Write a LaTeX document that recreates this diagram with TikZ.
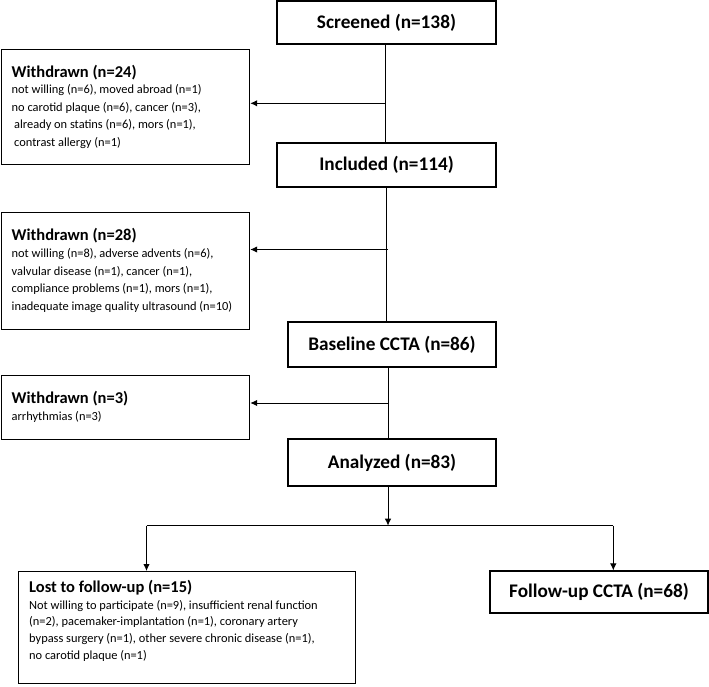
\documentclass[tikz,border=0pt]{standalone}
\usepackage{fontspec}
\setmainfont{Carlito}
\usetikzlibrary{arrows.meta,calc}
\begin{document}
\begin{tikzpicture}[x=1pt,y=-1pt,
 box/.style={draw,line width=1.1pt,inner sep=0pt},
 title/.style={font=\fontsize{19.25}{22}\selectfont\bfseries},
 head/.style={font=\fontsize{16.5}{19}\selectfont\bfseries,anchor=base west,inner sep=0pt},
 body/.style={font=\fontsize{12.4}{15}\selectfont,anchor=base west,inner sep=0pt},
 conn/.style={line width=1pt},
 arr/.style={line width=1pt,-{Latex[length=7pt,width=6.5pt]}}]
\useasboundingbox (0,0) rectangle (709,687);

% main boxes
\node[box,title,minimum width=219pt,minimum height=43pt] (scr) at (386.5,22.5) {Screened (n=138)};
\node[box,title,minimum width=219pt,minimum height=44pt] (inc) at (386.5,165) {Included (n=114)};
\node[box,title,minimum width=208pt,minimum height=45pt] (base) at (392,344.5) {Baseline CCTA (n=86)};
\node[box,title,minimum width=208pt,minimum height=47pt] (ana) at (392,462.5) {Analyzed (n=83)};
\node[box,title,minimum width=218pt,minimum height=42pt] (fol) at (599,592) {Follow-up CCTA (n=68)};

% withdrawn (n=24)
\node[box,anchor=north west,minimum width=248.5pt,minimum height=115pt] (w24) at (0.6,49) {};
\node[head] (w24h) at (11.5,77.5) {Withdrawn (n=24)};
\node[body] (w24a) at (11.5,94) {not willing (n=6), moved abroad (n=1)};
\node[body] (w24b) at (11.5,111.5) {no carotid plaque (n=6), cancer (n=3),};
\node[body] (w24c) at (14,129) {already on statins (n=6), mors (n=1),};
\node[body] (w24d) at (14,146.5) {contrast allergy (n=1)};

% withdrawn (n=28)
\node[box,anchor=north west,minimum width=248.5pt,minimum height=117pt] (w28) at (0.6,212) {};
\node[head] (w28h) at (11.5,240.5) {Withdrawn (n=28)};
\node[body] (w28a) at (11.5,257.5) {not willing (n=8), adverse advents (n=6),};
\node[body] (w28b) at (11.5,275) {valvular disease (n=1), cancer (n=1),};
\node[body] (w28c) at (11.5,292.5) {compliance problems (n=1), mors (n=1),};
\node[body] (w28d) at (11.5,310) {inadequate image quality ultrasound (n=10)};

% withdrawn (n=3)
\node[box,anchor=north west,minimum width=248.5pt,minimum height=64pt] (w3) at (0.6,375) {};
\node[head] (w3h) at (11.5,403.5) {Withdrawn (n=3)};
\node[body] (w3a) at (11.5,420.5) {arrhythmias (n=3)};

% lost to follow-up
\node[box,anchor=north west,minimum width=337pt,minimum height=112pt] (lost) at (18,571) {};
\node[head] (losth) at (29,592) {Lost to follow-up (n=15)};
\node[body] (losta) at (29,609) {Not willing to participate (n=9), insufficient renal function};
\node[body] (lostb) at (29,625.7) {(n=2), pacemaker-implantation (n=1), coronary artery};
\node[body] (lostc) at (29,642.4) {bypass surgery (n=1), other severe chronic disease (n=1),};
\node[body] (lostd) at (29,659.1) {no carotid plaque (n=1)};

% connectors
\draw[conn] ([xshift=-0.8pt]scr.south) -- ([xshift=-0.8pt]inc.north);
\coordinate (j1) at (385.7,103.3);
\draw[arr] (j1) -- (j1 -| w24.east);
\draw[conn] ([xshift=0pt]inc.south) -- ([xshift=0pt]inc.south |- base.north);
\coordinate (j2) at (388,249.5);
\draw[arr] (j2) -- (j2 -| w28.east);
\draw[conn] ([xshift=-4pt]base.south) -- ([xshift=-4pt]ana.north);
\coordinate (j3) at (389,403);
\draw[arr] (j3) -- (j3 -| w3.east);
\coordinate (j4) at (388,525.7);
\draw[arr] (j4 |- ana.south) -- (j4);
\coordinate (bl) at (146.5,525.7);
\coordinate (br) at (613.3,525.7);
\draw[conn] (bl) -- (br);
\draw[arr] (bl) -- (bl |- lost.north);
\draw[arr] (br) -- (br |- fol.north);
\end{tikzpicture}
\end{document}
